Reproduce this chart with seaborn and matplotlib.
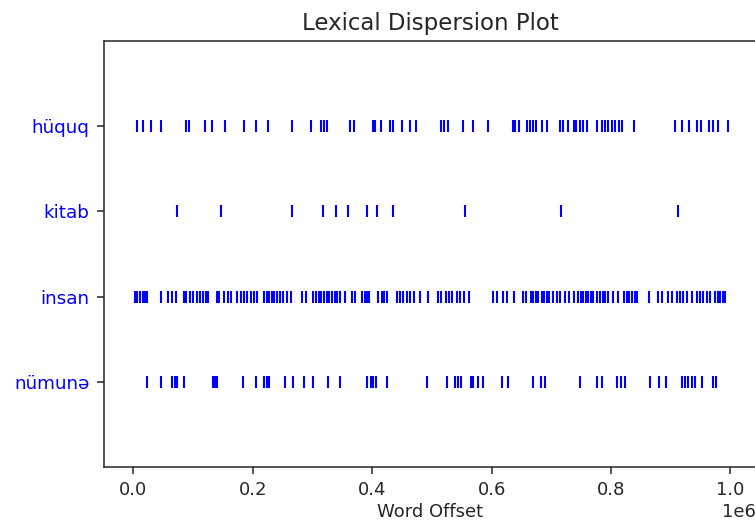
import pandas as pd
import matplotlib.pyplot as plt
import seaborn as sns

# words, top to bottom
words = ['hüquq', 'kitab', 'insan', 'nümunə']

# word offsets
huquq_offsets = [6400, 15400, 28800, 45500, 88000, 93500, 119800, 131000, 153000, 185700,
                 205000, 226000, 265000, 297000, 314600, 319000, 323600, 362600, 369000,
                 400700, 405000, 414600, 429700, 435000, 449000, 463000, 472700,
                 515600, 520000, 526800, 551400, 569000, 594300, 635000, 639500, 645000,
                 658600, 664000, 669700, 674000, 683700, 692000, 714400, 720000, 728000,
                 738000, 742000, 748000, 753500, 759000, 777000, 784000, 790000, 795000,
                 801000, 806500, 813000, 819000, 838000, 907000, 918000, 931000, 944000,
                 950000, 964500, 971000, 979600, 996300]

kitab_offsets = [72300, 146600, 265000, 317000, 339000, 358800, 391700, 408400, 434200,
                 555300, 715500, 911500]

insan_offsets = [2500, 6400, 10900, 15400, 19300, 23200, 46100, 58300, 63900, 71200,
                 84600, 87900, 94600, 99100, 106900, 111400, 117000, 121400, 125300,
                 140400, 143800, 151600, 158800, 163300, 173900, 179500, 185100, 190700,
                 196300, 201800, 207400, 219100, 223100, 227000, 231400, 235300, 239800,
                 245400, 251000, 256600, 263300, 281700, 288900, 301200, 305700, 310200,
                 314600, 319100, 323600, 328000, 332500, 337000, 341400, 345900, 354300,
                 365400, 371000, 382200, 387800, 390600, 395000, 410100, 415700, 419600,
                 424100, 441900, 446400, 452000, 457600, 463100, 469800, 479900, 493900,
                 510600, 514500, 523500, 527900, 532900, 542400, 546900, 553600, 562500,
                 602700, 608300, 619500, 626200, 637400, 651900, 657500, 665300, 669700,
                 674200, 678100, 683700, 687600, 692100, 696500, 702100, 708800, 714400,
                 722800, 730000, 737900, 745100, 749000, 753500, 758000, 761900, 765800,
                 770200, 775800, 781400, 785900, 790300, 795400, 803700, 812100, 821600,
                 826100, 830500, 835000, 839500, 843900, 864000, 879100, 884700, 895900,
                 901500, 910900, 915400, 921000, 926600, 935000, 943300, 948900, 953400,
                 960100, 965700, 974000, 978500, 982400, 986900, 990800]

numune_offsets = [22100, 45500, 63900, 69500, 73400, 84600, 132600, 136500, 140400,
                  182900, 205200, 218600, 223100, 227500, 253800, 267700, 286100, 300100,
                  326400, 345900, 391700, 397300, 401700, 406200, 424100, 492200,
                  525700, 538500, 544100, 548000, 564800, 569200, 577600, 584900, 616700,
                  627900, 669700, 682000, 689300, 747900, 776900, 784200, 809300, 816000,
                  823300, 865200, 880800, 892000, 918200, 923800, 929400, 935000, 940500,
                  951700, 971200, 975700]

offsets = [huquq_offsets, kitab_offsets, insan_offsets, numune_offsets]

# long-form table; first word goes on top
rows = []
for i, (word, offs) in enumerate(zip(words, offsets)):
    for o in offs:
        rows.append({'word': word, 'offset': o, 'pos': len(words) - 1 - i})
df = pd.DataFrame(rows)

sns.set_style('ticks')
plt.rcParams['font.family'] = ['DejaVu Sans']
plt.rcParams['xtick.major.size'] = 4.8
plt.rcParams['ytick.major.size'] = 4.8
plt.rcParams['xtick.major.width'] = 1.1
plt.rcParams['ytick.major.width'] = 1.1
plt.rcParams['xtick.major.pad'] = 5
plt.rcParams['ytick.major.pad'] = 5.5
plt.rcParams['axes.linewidth'] = 1.1

fig = plt.figure(figsize=(7.55, 5.3), dpi=100)
ax = fig.add_axes([0.1377, 0.1189, 0.8636, 0.8038])

# dispersion marks
sns.scatterplot(data=df, x='offset', y='pos', marker='|', color='blue',
                s=80, linewidth=1.5, legend=False, ax=ax)

ax.set_yticks(range(len(words)))
ax.set_yticklabels(words[::-1], color='blue', fontsize=13.2)
ax.tick_params(axis='x', labelsize=13)
ax.xaxis.get_offset_text().set_fontsize(13)
ax.set_ylim(-1, len(words))
ax.set_xlim(-49400, 1042700)
ax.set_title('Lexical Dispersion Plot', fontsize=16.5, pad=8)
ax.set_xlabel('Word Offset', fontsize=13, labelpad=3)
ax.set_ylabel('')

plt.savefig('out.png', dpi=100)
